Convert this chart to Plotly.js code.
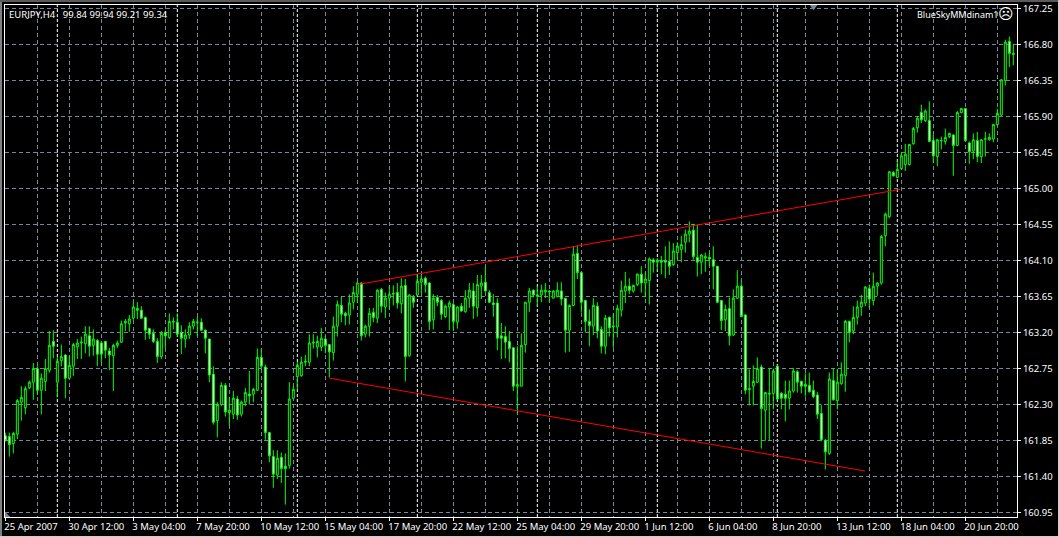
<!DOCTYPE html>
<html><head><meta charset="utf-8"><script src="https://cdn.plot.ly/plotly-3.0.1.min.js"></script>
<style>html,body{margin:0;padding:0;background:#000;overflow:hidden}#c{width:1059px;height:537px}
.s{position:absolute;z-index:5}</style></head>
<body><div id="c"></div>
<div class="s" style="left:0;top:0;width:2px;height:537px;background:#808080"></div>
<div class="s" style="left:0;top:0;width:1059px;height:2px;background:#5a5a5a"></div>
<div class="s" style="left:1058px;top:0;width:1px;height:537px;background:#d4d0c8"></div>
<div class="s" style="left:0;top:536px;width:1059px;height:1px;background:#d4d0c8"></div>
<script>
const open=[161.91,161.90,161.81,161.93,162.33,162.26,162.51,162.58,162.75,162.48,
162.59,162.73,163.09,162.58,162.85,162.92,162.63,162.78,163.02,163.07,
163.06,163.16,163.04,163.10,163.07,163.09,162.97,162.91,163.04,163.08,
163.32,163.31,163.38,163.50,163.48,163.39,163.25,163.19,163.09,162.90,
163.20,163.14,163.33,163.33,163.20,163.12,163.17,163.28,163.33,163.33,
163.23,163.12,162.68,162.10,162.30,162.54,162.20,162.18,162.37,162.18,
162.33,162.43,162.43,162.48,162.89,162.77,161.95,161.65,161.42,161.64,
161.53,161.54,162.38,162.65,162.66,162.83,162.83,163.07,163.02,163.02,
163.12,163.05,162.95,163.28,163.54,163.44,163.42,163.58,163.68,163.82,
163.18,163.28,163.45,163.38,163.74,163.52,163.63,163.68,163.70,163.56,
163.79,162.91,163.64,163.67,163.83,163.88,163.82,163.36,163.64,163.60,
163.40,163.52,163.55,163.33,163.53,163.46,163.63,163.72,163.51,163.78,
163.83,163.70,163.57,163.57,163.16,163.15,163.09,163.01,162.53,162.53,
163.05,163.58,163.73,163.67,163.67,163.71,163.72,163.63,163.65,163.72,
163.63,163.23,163.54,164.19,163.95,163.60,163.34,163.28,163.53,163.24,
163.03,163.39,163.27,163.27,163.48,163.72,163.78,163.72,163.80,163.93,
163.82,163.85,164.11,164.08,164.10,164.10,164.09,164.05,164.20,164.24,
164.33,164.43,164.48,164.14,164.08,164.13,164.14,164.11,164.03,163.60,
163.36,163.50,163.17,163.63,163.78,163.42,162.49,162.53,162.58,162.77,
162.23,162.43,162.44,162.78,162.44,162.43,162.38,162.47,162.71,162.59,
162.55,162.54,162.48,162.42,162.19,161.85,161.69,162.60,162.35,162.56,
162.66,163.34,163.22,163.39,163.52,163.57,163.75,163.60,163.78,163.82,
164.41,164.65,165.20,165.14,165.25,165.30,165.30,165.56,165.76,165.95,
165.85,165.85,165.60,165.40,165.60,165.59,165.65,165.67,165.54,165.95,
166.00,165.57,165.47,165.60,165.40,165.62,165.61,165.62,165.80,165.92,
166.35,166.84,166.69];
const close=[161.85,161.80,161.94,162.35,162.39,162.50,162.58,162.75,162.48,162.63,
162.75,163.04,163.03,162.84,162.90,162.63,162.79,163.05,163.07,163.08,
163.18,163.03,163.12,162.93,162.93,162.98,162.92,163.04,163.07,163.31,
163.34,163.37,163.52,163.48,163.38,163.23,163.18,163.09,162.90,163.19,
163.16,163.34,163.34,163.18,163.13,163.17,163.28,163.34,163.33,163.23,
163.13,162.67,162.08,162.30,162.54,162.21,162.23,162.38,162.17,162.33,
162.45,162.41,162.49,162.89,162.78,161.95,161.66,161.43,161.63,161.50,
161.50,162.37,162.49,162.79,162.83,162.84,163.07,163.08,163.09,163.13,
163.04,162.96,163.28,163.55,163.43,163.41,163.57,163.70,163.82,163.16,
163.28,163.44,163.39,163.73,163.53,163.63,163.68,163.69,163.57,163.78,
162.90,163.67,163.58,163.84,163.87,163.80,163.34,163.63,163.58,163.43,
163.53,163.57,163.34,163.52,163.47,163.63,163.73,163.53,163.80,163.82,
163.72,163.58,163.55,163.13,163.13,163.08,163.00,162.53,162.55,163.04,
163.58,163.72,163.67,163.66,163.73,163.73,163.71,163.72,163.73,163.62,
163.23,163.54,164.18,163.95,163.58,163.34,163.29,163.54,163.22,163.03,
163.38,163.26,163.28,163.50,163.73,163.78,163.73,163.79,163.93,163.82,
163.87,164.12,164.08,164.09,164.08,164.08,164.03,164.22,164.28,164.30,
164.43,164.47,164.15,164.08,164.17,164.15,164.12,164.03,163.58,163.35,
163.49,163.16,163.63,163.78,163.40,162.48,162.50,162.59,162.75,162.25,
162.45,162.44,162.72,162.37,162.38,162.38,162.47,162.72,162.58,162.53,
162.53,162.46,162.40,162.18,161.86,161.71,162.62,162.36,162.58,162.68,
163.34,163.20,163.39,163.52,163.58,163.77,163.62,163.78,163.82,164.40,
164.68,165.21,165.16,165.24,165.41,165.43,165.55,165.75,165.88,165.86,
165.97,165.59,165.41,165.61,165.60,165.64,165.69,165.54,165.95,166.00,
165.60,165.46,165.61,165.40,165.61,165.62,165.64,165.80,165.94,166.36,
166.83,166.69,166.68];
const high=[161.95,161.95,161.96,162.37,162.53,162.53,162.60,162.82,162.78,162.69,
162.87,163.22,163.23,162.90,163.05,162.93,162.91,163.07,163.12,163.15,
163.28,163.28,163.24,163.12,163.09,163.09,163.01,163.06,163.10,163.35,
163.37,163.42,163.58,163.58,163.53,163.40,163.26,163.24,163.13,163.22,
163.24,163.44,163.39,163.44,163.29,163.24,163.33,163.37,163.40,163.38,
163.24,163.12,162.78,162.33,162.58,162.57,162.39,162.47,162.41,162.35,
162.51,162.72,162.51,163.00,163.00,162.80,161.96,161.73,161.73,161.70,
161.69,162.58,162.53,162.83,162.90,162.92,163.18,163.18,163.16,163.26,
163.16,163.05,163.40,163.60,163.65,163.46,163.68,163.78,163.83,163.83,
163.30,163.51,163.51,163.74,163.76,163.70,163.79,163.79,163.82,163.88,
163.87,163.68,163.67,163.93,163.93,163.90,163.83,163.68,163.67,163.62,
163.55,163.60,163.57,163.53,163.57,163.73,163.82,163.82,163.92,163.92,
164.02,163.73,163.68,163.63,163.32,163.28,163.22,163.01,163.03,163.19,
163.58,163.76,163.74,163.78,163.80,163.82,163.73,163.73,163.83,163.83,
163.63,163.55,164.28,164.29,163.96,163.61,163.49,163.63,163.58,163.28,
163.42,163.40,163.44,163.55,163.85,163.96,163.88,163.80,163.94,164.03,
163.95,164.14,164.13,164.13,164.16,164.28,164.34,164.32,164.33,164.41,
164.49,164.59,164.56,164.55,164.18,164.20,164.19,164.28,164.03,163.61,
163.55,163.64,163.74,163.98,163.85,163.43,162.74,162.79,162.89,162.80,
162.46,162.76,162.75,162.79,162.46,162.60,162.60,162.76,162.73,162.60,
162.69,162.70,162.60,162.46,162.30,161.87,162.70,162.75,162.74,162.83,
163.36,163.35,163.53,163.60,163.67,163.78,163.80,163.95,163.83,164.42,
164.70,165.22,165.22,165.35,165.45,165.56,165.56,165.77,165.90,166.05,
165.99,166.09,165.67,165.62,165.65,165.75,165.70,165.68,165.97,166.01,
166.00,165.59,165.69,165.71,165.62,165.71,165.69,165.81,166.00,166.37,
166.86,166.90,166.81];
const low=[161.84,161.65,161.69,161.87,162.10,162.18,162.49,162.36,162.42,162.18,
162.47,162.70,162.88,162.39,162.78,162.38,162.62,162.66,162.87,162.87,
162.94,162.90,162.91,162.78,162.82,162.88,162.73,162.47,163.01,163.07,
163.22,163.21,163.36,163.37,163.37,163.11,163.12,163.07,162.82,162.87,
163.00,163.12,163.24,163.15,162.93,163.01,163.12,163.24,163.16,163.22,
162.94,162.58,162.05,161.89,162.28,162.15,162.03,162.12,162.11,162.15,
162.28,162.30,162.33,162.47,162.74,161.86,161.58,161.26,161.37,161.32,
161.05,161.50,162.37,162.49,162.65,162.78,162.78,163.00,162.89,162.97,
162.94,162.64,162.85,163.15,163.33,163.29,163.30,163.49,163.57,163.10,
163.14,163.15,163.33,163.32,163.45,163.38,163.49,163.54,163.50,163.44,
162.59,162.90,163.51,163.66,163.69,163.70,163.23,163.24,163.53,163.36,
163.38,163.23,163.23,163.25,163.46,163.45,163.51,163.37,163.40,163.62,
163.71,163.57,163.40,162.98,162.87,162.88,162.83,162.47,162.19,162.53,
162.95,163.46,163.64,163.53,163.58,163.63,163.58,163.63,163.64,163.54,
162.95,162.96,163.53,163.87,163.45,163.20,163.03,163.17,163.13,162.94,
162.93,163.15,163.01,163.14,163.40,163.57,163.68,163.70,163.78,163.70,
163.64,163.55,163.95,163.98,163.93,163.88,163.92,164.03,164.12,164.08,
164.20,164.33,164.11,163.90,163.93,163.96,164.03,163.74,163.57,163.23,
163.22,163.04,163.16,163.62,163.39,162.43,162.29,162.29,162.57,161.75,
161.85,161.85,162.24,162.36,162.24,162.09,162.24,162.45,162.45,162.44,
162.40,162.45,162.38,162.12,161.84,161.49,161.67,162.35,162.24,162.55,
162.46,163.08,163.18,163.30,163.41,163.53,163.51,163.54,163.66,163.80,
164.28,164.63,165.15,165.13,165.24,165.22,165.29,165.55,165.70,165.82,
165.83,165.58,165.32,165.28,165.49,165.55,165.63,165.16,165.53,165.94,
165.59,165.31,165.37,165.33,165.32,165.40,165.60,165.58,165.79,165.91,
166.29,166.52,166.54];
const timeTickBars=[0,16,32,48,64,80,96,112,128,144,160,176,192,208,224,240];
const timeTickLabels=["25 Apr 2007","30 Apr 12:00","3 May 04:00","7 May 20:00","10 May 12:00","15 May 04:00","17 May 20:00","22 May 12:00","25 May 04:00","29 May 20:00","1 Jun 12:00","6 Jun 04:00","8 Jun 20:00","13 Jun 12:00","18 Jun 04:00","20 Jun 20:00"];
const minorGridBars=[8,24,40,56,72,88,104,120,136,152,168,184,200,216,232,248];
const periodSeparators=[13,43,73,103,133,163,193,223];
const priceTicks=[160.95,161.40,161.85,162.30,162.75,163.20,163.65,164.10,164.55,165.00,165.45,165.90,166.35,166.80,167.25];
const upperTrendX=[88,223.7], upperTrendY=[163.80,164.99];
const lowerTrendX=[81,214.9], lowerTrendY=[162.63,161.47];
const bars=open.map((_,i)=>i);
const grid='#778899', dash='4px,3px', sepDash='3px,2px';
const font='"Noto Sans", sans-serif';
const data=[
 {type:'candlestick',x:bars,open:open,high:high,low:low,close:close,
  increasing:{line:{color:'#00ff00',width:1},fillcolor:'#000000'},
  decreasing:{line:{color:'#00ff00',width:1},fillcolor:'#ffffff'},
  whiskerwidth:0,hoverinfo:'skip',showlegend:false},
 {type:'scatter',mode:'lines',x:upperTrendX,y:upperTrendY,line:{color:'#ff0000',width:1},hoverinfo:'skip',showlegend:false},
 {type:'scatter',mode:'lines',x:lowerTrendX,y:lowerTrendY,line:{color:'#ff0000',width:1},hoverinfo:'skip',showlegend:false}
];
const shapes=periodSeparators.map(b=>({type:'line',xref:'x',yref:'paper',x0:b,x1:b,y0:0,y1:1,layer:'below',line:{color:'#ffffff',width:1,dash:sepDash}}));
shapes.push({type:'path',xref:'x',yref:'y',path:'M201.1,167.295 L203.0,167.295 L202.05,167.23 Z',fillcolor:grid,line:{width:0}});
shapes.push({type:'path',xref:'x',yref:'y',path:'M-0.08,160.96 L-0.08,160.895 L1.25,160.895 Z',fillcolor:grid,line:{width:0}});
const layout={
 width:1059,height:537,paper_bgcolor:'#000',plot_bgcolor:'#000',showlegend:false,
 margin:{l:5,r:42,t:5,b:20,pad:0},
 font:{family:font,size:9.5,color:'#fff'},
 xaxis:{type:'linear',range:[-0.083,252.92],rangeslider:{visible:false},tickmode:'array',tickvals:timeTickBars,ticktext:timeTickLabels,tickangle:0,
  ticklabelposition:'outside right',ticklabelshift:-2,ticklabelstandoff:1,ticks:'outside',ticklen:3,tickcolor:'#fff',tickfont:{family:font,size:9.5,color:'#fff'},
  showgrid:true,gridcolor:grid,griddash:dash,gridwidth:1,zeroline:false,showline:true,linecolor:'#fff',linewidth:1,mirror:true,
  minor:{tickmode:'array',tickvals:minorGridBars,showgrid:true,gridcolor:grid,griddash:dash,gridwidth:1,ticks:''}},
 yaxis:{side:'right',range:[160.895,167.295],tickmode:'array',tickvals:priceTicks,ticktext:priceTicks.map(v=>v.toFixed(2)),
  ticks:'outside',ticklen:3,tickcolor:'#fff',tickfont:{family:font,size:9.5,color:'#fff'},
  showgrid:true,gridcolor:grid,griddash:dash,gridwidth:1,zeroline:false,showline:true,linecolor:'#fff',linewidth:1,mirror:true},
 shapes:shapes,
 annotations:[
  {xref:'paper',yref:'paper',x:0.002,y:0.9975,xanchor:'left',yanchor:'top',text:'EURJPY,H4&nbsp;&nbsp;&nbsp;99.84 99.94 99.21 99.34',showarrow:false,font:{family:font,size:9.5,color:'#fff'}},
  {xref:'paper',yref:'paper',x:0.9845,y:0.9975,xanchor:'right',yanchor:'top',text:'BlueSkyMMdinam1',showarrow:false,font:{family:font,size:9,color:'#fff'}},
  {xref:'paper',yref:'paper',x:0.9995,y:1.004,xanchor:'right',yanchor:'top',text:'☹',showarrow:false,font:{family:'"DejaVu Sans"',size:15,color:'#fff'}}
 ]
};
Plotly.newPlot('c',data,layout,{displayModeBar:false,staticPlot:true});
</script></body></html>
